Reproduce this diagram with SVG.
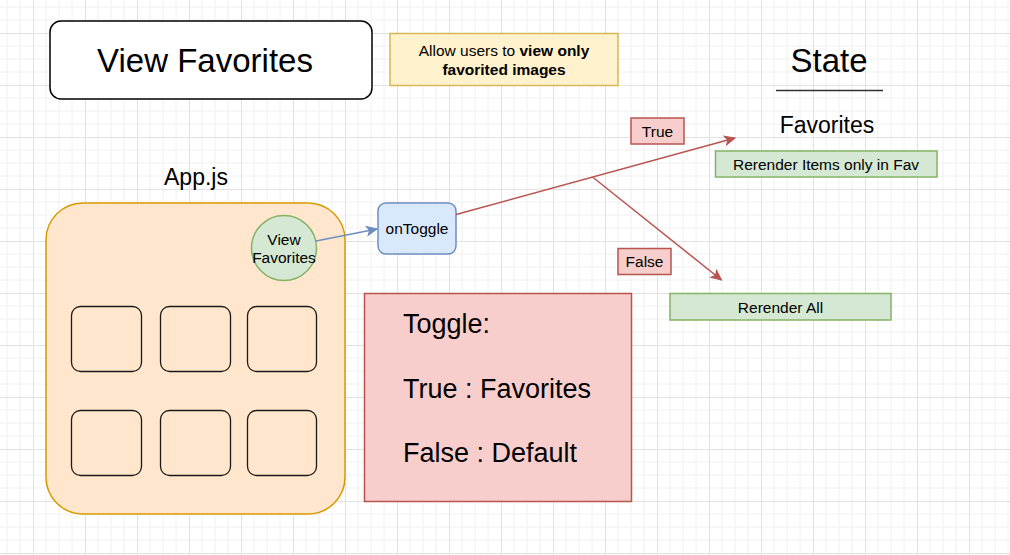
<svg xmlns="http://www.w3.org/2000/svg" width="1010" height="555" viewBox="0 0 1010 555">
  <defs>
    <pattern id="grid" x="33" y="33" width="52" height="52" patternUnits="userSpaceOnUse">
      <path d="M13,0 V52 M26,0 V52 M39,0 V52 M0,13 H52 M0,26 H52 M0,39 H52" stroke="#f0f0f0" stroke-width="1" fill="none"/>
      <path d="M0.5,0 V52 M0,0.5 H52" stroke="#e2e2e2" stroke-width="1" fill="none"/>
    </pattern>
    <marker id="arrRed" markerUnits="userSpaceOnUse" markerWidth="14" markerHeight="12" refX="11" refY="5" orient="auto" viewBox="0 0 14 10">
      <path d="M1,0.5 L11,5 L1,9.5 L3.5,5 Z" fill="#b85450" stroke="#b85450" stroke-width="1"/>
    </marker>
    <marker id="arrBlue" markerUnits="userSpaceOnUse" markerWidth="14" markerHeight="12" refX="11" refY="5" orient="auto" viewBox="0 0 14 10">
      <path d="M1,0.5 L11,5 L1,9.5 L3.5,5 Z" fill="#6c8ebf" stroke="#6c8ebf" stroke-width="1"/>
    </marker>
  </defs>
  <style>
    text { font-family: "Liberation Sans", Arial, sans-serif; fill: #000; }
    .red { fill: #f8cecc; stroke: #b85450; stroke-width: 1.5; }
    .green { fill: #d5e8d4; stroke: #82b366; stroke-width: 1.5; }
    .tile { fill: #ffe6cc; stroke: #1a1a1a; stroke-width: 1.3; }
    .s15 { font-size: 15.5px; }
    .mid { text-anchor: middle; }
  </style>
  <rect x="0" y="0" width="1010" height="555" fill="#ffffff"/>
  <rect x="0" y="0" width="1010" height="555" fill="url(#grid)"/>

  <g id="title">
    <rect x="50" y="21" width="322" height="78" rx="11" fill="#ffffff" stroke="#000000" stroke-width="1.5"/>
    <text x="205" y="72" class="mid" font-size="33">View Favorites</text>
  </g>

  <g id="note">
    <rect x="390" y="33.5" width="228" height="52" fill="#fff2cc" stroke="#d6b656" stroke-width="1.5"/>
    <text x="504" y="56" class="mid s15">Allow users to <tspan font-weight="bold">view only</tspan></text>
    <text x="504" y="74.5" class="mid s15" font-weight="bold">favorited images</text>
  </g>

  <g id="state">
    <text x="829" y="72" class="mid" font-size="33">State</text>
    <line x1="776" y1="90.5" x2="883" y2="90.5" stroke="#333333" stroke-width="1.5"/>
  </g>

  <g id="favorites-label">
    <text x="827" y="133" class="mid" font-size="23">Favorites</text>
  </g>

  <g id="app-label">
    <text x="196" y="185" class="mid" font-size="23">App.js</text>
  </g>

  <g id="app">
    <rect x="46" y="203" width="299" height="311" rx="37" fill="#ffe6cc" stroke="#d79b00" stroke-width="1.5"/>
    <rect class="tile" x="71.5" y="306.5" width="70" height="65" rx="9"/>
    <rect class="tile" x="160.5" y="306.5" width="70" height="65" rx="9"/>
    <rect class="tile" x="247.5" y="306.5" width="69" height="65" rx="9"/>
    <rect class="tile" x="71.5" y="410.5" width="70" height="65" rx="9"/>
    <rect class="tile" x="160.5" y="410.5" width="70" height="65" rx="9"/>
    <rect class="tile" x="247.5" y="410.5" width="69" height="65" rx="9"/>
  </g>

  <g id="view-favorites-btn">
    <circle cx="284" cy="248" r="32.5" class="green"/>
    <text x="284" y="245" class="mid s15">View</text>
    <text x="284" y="262.5" class="mid s15">Favorites</text>
  </g>

  <g id="onToggle">
    <rect x="378" y="203" width="78" height="51" rx="8" fill="#dae8fc" stroke="#6c8ebf" stroke-width="1.5"/>
    <text x="417" y="234" class="mid s15">onToggle</text>
  </g>

  <g id="connectors" fill="none">
    <line x1="316" y1="241" x2="377" y2="229" stroke="#6c8ebf" stroke-width="1.5" marker-end="url(#arrBlue)"/>
    <line x1="456" y1="214.5" x2="735" y2="138" stroke="#b85450" stroke-width="1.5" marker-end="url(#arrRed)"/>
    <line x1="592.5" y1="177" x2="721.5" y2="280" stroke="#b85450" stroke-width="1.5" marker-end="url(#arrRed)"/>
  </g>

  <g id="true-label">
    <rect x="631" y="118" width="53" height="26" class="red"/>
    <text x="657.5" y="136.5" class="mid s15">True</text>
  </g>

  <g id="false-label">
    <rect x="618" y="248.5" width="53" height="26" class="red"/>
    <text x="644.5" y="267" class="mid s15">False</text>
  </g>

  <g id="rerender-fav">
    <rect x="715.5" y="151" width="221.5" height="26" class="green"/>
    <text x="826" y="169.5" class="mid s15">Rerender Items only in Fav</text>
  </g>

  <g id="rerender-all">
    <rect x="670" y="293.5" width="221" height="26.5" class="green"/>
    <text x="780.5" y="312.5" class="mid s15">Rerender All</text>
  </g>

  <g id="toggle-info">
    <rect x="364.5" y="293.5" width="267" height="208" class="red"/>
    <text x="403" y="333" font-size="27">Toggle:</text>
    <text x="403" y="397.5" font-size="27">True : Favorites</text>
    <text x="403" y="462" font-size="27">False : Default</text>
  </g>
</svg>
